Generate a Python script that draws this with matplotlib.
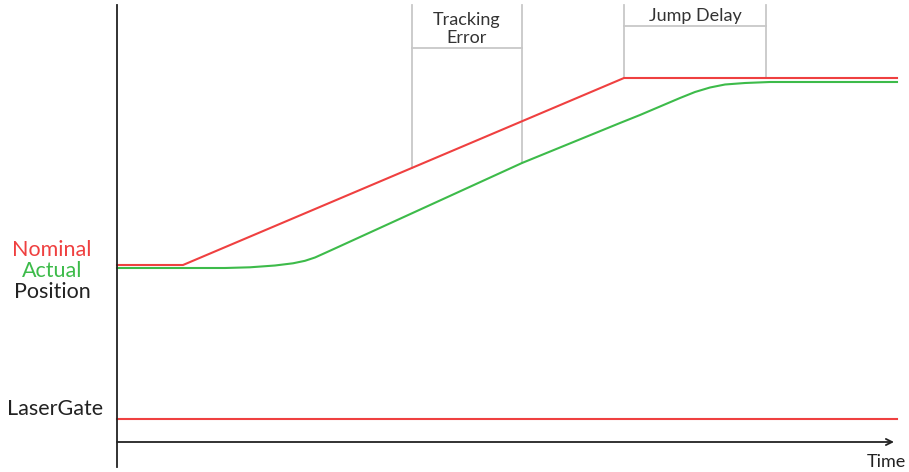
import matplotlib.pyplot as plt

plt.rcParams['font.family'] = ['Lato', 'DejaVu Sans']

# diagram coordinates in pixels of the original picture (y grows downwards)
nominal_x = [117, 183, 624, 897]
nominal_y = [265, 265, 78, 78]

actual_x = [117, 225, 250, 275, 293, 305, 315, 325, 336, 522, 620, 640,
            660, 680, 695, 710, 725, 745, 770, 897]
actual_y = [268, 268, 267.3, 265.5, 263.3, 260.8, 257.5, 253, 248, 163, 123, 115,
            106.5, 98, 92, 87.5, 84.5, 83, 82, 82]

gate_x = [117, 897]
gate_y = [419, 419]

# brackets: (left, right, left bottom, right bottom, bar y, label, label y)
brackets = [
    (412, 522, 168, 163, 48, 'Tracking\nError', 29),
    (624, 766, 78, 78, 26, 'Jump Delay', 16),
]

red = '#ef4040'
green = '#3dbb4a'
grey = '#c8c8c8'

fig = plt.figure(figsize=(9.09, 4.72), dpi=100)
ax = fig.add_axes([0, 0, 1, 1])
ax.set_xlim(0, 909)
ax.set_ylim(472, 0)
ax.axis('off')

for left, right, lb, rb, bar_y, label, label_y in brackets:
    ax.plot([left, left], [5, lb], color=grey, lw=1.3)
    ax.plot([right, right], [5, rb], color=grey, lw=1.3)
    ax.plot([left, right], [bar_y, bar_y], color=grey, lw=1.3)
    ax.text((left + right) / 2, label_y, label, ha='center', va='center',
            fontsize=13, color='#333333', linespacing=1.2)

ax.plot(nominal_x, nominal_y, color=red, lw=1.5)
ax.plot(actual_x, actual_y, color=green, lw=1.5)
ax.plot(gate_x, gate_y, color=red, lw=1.5)

# axes of the diagram
ax.plot([117, 117], [5, 467], color='#222222', lw=1.3)
ax.annotate('', xy=(894, 442), xytext=(117, 442),
            arrowprops=dict(arrowstyle='->', color='#222222', lw=1.3,
                            shrinkA=0, shrinkB=0, mutation_scale=11))

ax.text(52, 250, 'Nominal', color=red, ha='center', va='center', fontsize=15.5)
ax.text(52, 271, 'Actual', color=green, ha='center', va='center', fontsize=15.5)
ax.text(52, 292, 'Position', color='#222222', ha='center', va='center', fontsize=15.5)
ax.text(55, 409, 'LaserGate', color='#222222', ha='center', va='center', fontsize=15.5)
ax.text(886, 462, 'Time', color='#222222', ha='center', va='center', fontsize=13)

fig.savefig('out.png', dpi=100)
